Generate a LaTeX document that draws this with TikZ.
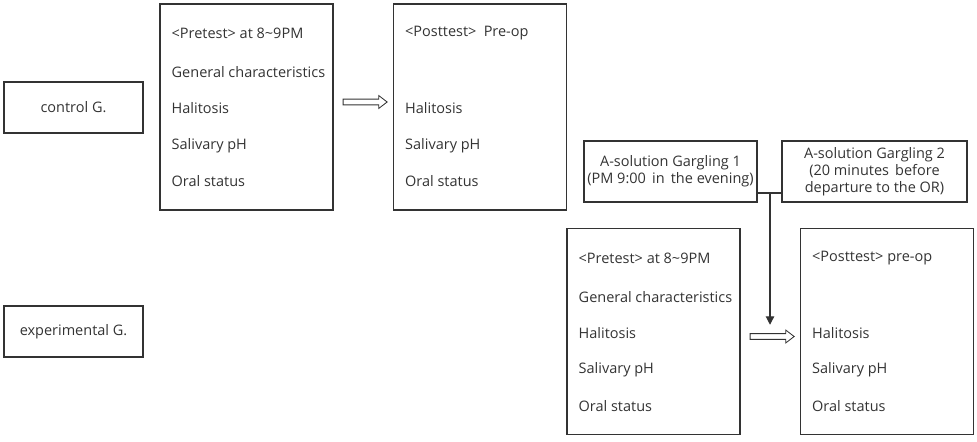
\documentclass[tikz,border=0pt]{standalone}
\usepackage{fontspec}
\setmainfont{Open Sans}
\usepackage{tikz}
\usetikzlibrary{arrows.meta,shapes.arrows,calc}

\tikzset{
  box/.style={draw=black!80, line width=0.8pt, inner sep=0pt},
  item/.style={anchor=west, inner sep=0pt, text=black!80, font=\fontsize{10.3}{12}\selectfont},
  label/.style={align=center, text=black!80, font=\fontsize{10.3}{12}\selectfont},
  hollow/.style={single arrow, draw=black!80, line width=0.6pt, inner sep=0pt,
    text height=3.5pt, text depth=0pt, minimum height=1.1cm,
    single arrow head extend=2.5pt, single arrow tip angle=75}
}

\begin{document}
\begin{tikzpicture}[x=0.025cm, y=-0.025cm]

\useasboundingbox (0,0) rectangle (977,441);

%%% --- Groups --- %%%
\node[box, minimum width=3.475cm, minimum height=1.275cm, label] (ctrl) at (73.5,107.5) {control G.};
\node[box, minimum width=3.475cm, minimum height=1.275cm, label] (expr) at (73.5,331.5) {experimental G.};

%%% --- Test boxes --- %%%
\node[box, minimum width=4.325cm, minimum height=5.15cm] (pre1) at (246.5,107) {};
\node[box, minimum width=4.325cm, minimum height=5.15cm] (post1) at (480,107) {};
\node[box, minimum width=4.325cm, minimum height=5.15cm] (pre2) at (653.5,331.5) {};
\node[box, minimum width=4.325cm, minimum height=5.15cm] (post2) at (887,331.5) {};

% pretest lines
\foreach \b in {pre1,pre2}
  \foreach \t/\dy in {{<Pretest> at 8\textasciitilde9PM}/30,
                      {General characteristics}/69,
                      Halitosis/105,
                      {Salivary pH}/142,
                      {Oral status}/178}
    \node[item] at ([shift={(12,\dy)}]\b.north west) {\t};

% posttest lines
\node[item] at ([shift={(12,30)}]post1.north west) {<Posttest>\enspace Pre-op};
\node[item] at ([shift={(12,30)}]post2.north west) {<Posttest> pre-op};
\foreach \b in {post1,post2}
  \foreach \t/\dy in {Halitosis/105, {Salivary pH}/142, {Oral status}/178}
    \node[item] at ([shift={(12,\dy)}]\b.north west) {\t};

%%% --- Gargling --- %%%
\node[box, minimum width=4.325cm, minimum height=1.525cm, label] (garg1) at (670.5,171.5)
  {A-solution Gargling 1\\(PM 9:00\, in\, the evening)};
\node[box, minimum width=4.625cm, minimum height=1.525cm, label] (garg2) at (874.5,171.5)
  {A-solution Gargling 2\\(20 minutes\, before\\departure to the OR)};

%%% --- Arrows --- %%%
\node[hollow] (arr1) at ($(pre1.east)!0.5!(post1.west)+(0,-5)$) {};
\node[hollow] (arr2) at ($(pre2.east)!0.5!(post2.west)+(0,5)$) {};

\coordinate (join) at (770,193);
\draw[black!80, line width=0.8pt] (garg1.east |- join) -- (garg2.west |- join);
\draw[black!80, line width=0.8pt, -{Triangle[length=6pt,width=6pt]}, shorten >=6]
  (join) -- (join |- arr2.north);

\end{tikzpicture}
\end{document}
